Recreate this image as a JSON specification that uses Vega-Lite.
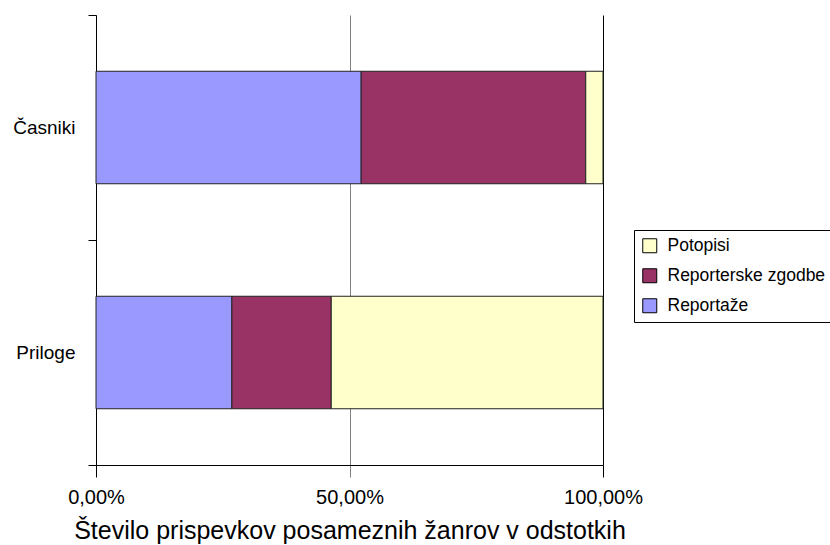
{
  "$schema": "https://vega.github.io/schema/vega-lite/v6.json",
  "width": 507,
  "height": 450,
  "autosize": {"type": "none"},
  "padding": {"left": 96, "top": 15, "right": 227, "bottom": 80},
  "background": "white",
  "config": {"view": {"stroke": null}, "font": "Liberation Sans"},
  "data": {
    "values": [
      {"medij": "Časniki", "zanr": "Reportaže", "rang": 1, "delez": 52.3},
      {"medij": "Časniki", "zanr": "Reporterske zgodbe", "rang": 2, "delez": 44.3},
      {"medij": "Časniki", "zanr": "Potopisi", "rang": 3, "delez": 3.4},
      {"medij": "Priloge", "zanr": "Reportaže", "rang": 1, "delez": 26.8},
      {"medij": "Priloge", "zanr": "Reporterske zgodbe", "rang": 2, "delez": 19.6},
      {"medij": "Priloge", "zanr": "Potopisi", "rang": 3, "delez": 53.6}
    ]
  },
  "mark": {"type": "bar", "stroke": "#222", "strokeWidth": 1, "height": {"band": 0.5}},
  "encoding": {
    "y": {
      "field": "medij",
      "type": "nominal",
      "sort": ["Časniki", "Priloge"],
      "scale": {"paddingInner": 0, "paddingOuter": 0},
      "axis": {
        "title": null,
        "domainColor": "black",
        "tickColor": "black",
        "tickBand": "extent",
        "tickSize": 8,
        "labelFontSize": 19,
        "labelColor": "black",
        "labelPadding": 13,
        "labelFont": "Liberation Sans"
      }
    },
    "x": {
      "field": "delez",
      "type": "quantitative",
      "stack": "normalize",
      "scale": {"domain": [0, 1]},
      "axis": {
        "values": [0, 0.5, 1],
        "labelExpr": "replace(format(datum.value, '.2%'), '.', ',')",
        "labelFlush": false,
        "labelOverlap": false,
        "grid": true,
        "gridColor": {"condition": {"test": "datum.value === 1", "value": "black"}, "value": "#808080"},
        "domainColor": "black",
        "tickColor": {"condition": {"test": "datum.value === 0.5", "value": "#808080"}, "value": "black"},
        "tickSize": 12,
        "labelFontSize": 20,
        "labelColor": "black",
        "labelPadding": 10,
        "labelFont": "Liberation Sans",
        "title": "Število prispevkov posameznih žanrov v odstotkih",
        "titleFontSize": 25,
        "titleFontWeight": "normal",
        "titleColor": "black",
        "titleFont": "Liberation Sans",
        "titlePadding": 11
      }
    },
    "color": {
      "field": "zanr",
      "type": "nominal",
      "scale": {
        "domain": ["Potopisi", "Reporterske zgodbe", "Reportaže"],
        "range": ["#FFFFCC", "#993366", "#9999FF"]
      },
      "legend": {
        "title": null,
        "orient": "none",
        "legendX": 538,
        "legendY": 215,
        "strokeColor": "black",
        "fillColor": "white",
        "padding": 7,
        "symbolType": "square",
        "symbolSize": 196,
        "symbolStrokeColor": "black",
        "symbolStrokeWidth": 1,
        "symbolOpacity": 1,
        "labelFontSize": 17.5,
        "labelColor": "black",
        "labelFont": "Liberation Sans",
        "labelLimit": 400,
        "rowPadding": 11,
        "labelOffset": 9
      }
    },
    "order": {"field": "rang", "type": "quantitative"}
  }
}
